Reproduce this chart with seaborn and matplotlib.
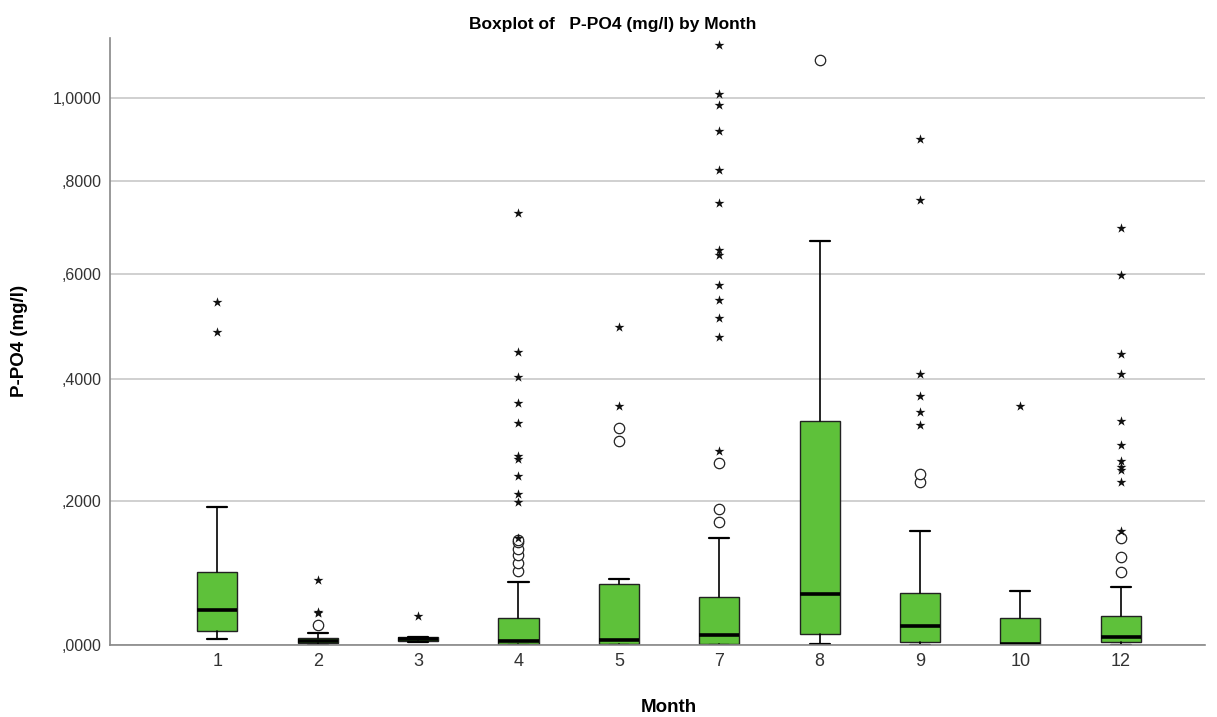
import numpy as np
import pandas as pd
import matplotlib
matplotlib.use("Agg")
import matplotlib.pyplot as plt
import seaborn as sns

# values (mg/l)
months = ["1", "2", "3", "4", "5", "7", "8", "9", "10", "12"]
q1 = [0.0183, 0.0022, 0.0055, 0.0010, 0.0010, 0.0010, 0.0139, 0.0037, 0.0000, 0.0034]
med = [0.0453, 0.0055, 0.0076, 0.0052, 0.0067, 0.0124, 0.0669, 0.0248, 0.0008, 0.0106]
q3 = [0.0965, 0.0085, 0.0098, 0.0348, 0.0805, 0.0631, 0.3288, 0.0685, 0.0344, 0.0374]
whislo = [0.0072, 0.0000, 0.0040, 0.0000, 0.0000, 0.0000, 0.0010, 0.0000, 0.0000, 0.0000]
whishi = [0.1907, 0.0150, 0.0105, 0.0834, 0.0867, 0.1446, 0.6690, 0.1550, 0.0708, 0.0767]

# mild outliers (circles)
circles = {
    "1": [], "2": [0.0257], "3": [],
    "4": [0.099, 0.110, 0.1215, 0.130, 0.1387, 0.143],
    "5": [0.2954, 0.3166], "7": [0.168, 0.188, 0.2589], "8": [1.098],
    "9": [0.229, 0.2417], "10": [], "12": [0.0973, 0.1183, 0.1448],
}
# extreme outliers (stars)
stars = {
    "1": [0.487, 0.545], "2": [0.041, 0.043, 0.086], "3": [0.0374],
    "4": [0.1457, 0.1994, 0.2105, 0.2386, 0.2652, 0.2707, 0.3247, 0.359, 0.4052, 0.449, 0.729],
    "5": [0.354, 0.497],
    "7": [0.279, 0.478, 0.514, 0.548, 0.579, 0.639, 0.649, 0.751, 0.826, 0.919, 0.982, 1.009, 1.138],
    "8": [], "9": [0.3214, 0.3439, 0.3712, 0.4096, 0.7585, 0.898], "10": [0.3537],
    "12": [0.1554, 0.23, 0.2483, 0.2525, 0.2626, 0.2885, 0.3284, 0.409, 0.4453, 0.598, 0.6955],
}
yticks = [0.0, 0.2, 0.4, 0.6, 0.8, 1.0]
ytick_labels = [",0000", ",2000", ",4000", ",6000", ",8000", "1,0000"]

sns.set_theme(style="white")
plt.rcParams["font.family"] = ["Liberation Sans", "DejaVu Sans"]
plt.rcParams["text.color"] = "black"

fig = plt.figure(figsize=(12.17, 7.17), dpi=100)
ax = fig.add_axes([110 / 1217, 1 - 645 / 717, 1095 / 1217, 607 / 717])
ax.set_yscale("function", functions=(np.log1p, np.expm1))

stats = []
for i, m in enumerate(months):
    stats.append(dict(med=med[i], q1=q1[i], q3=q3[i], whislo=whislo[i],
                      whishi=whishi[i], fliers=circles[m], label=m))

ax.bxp(stats, positions=np.arange(len(months)), widths=0.4, capwidths=0.2,
       patch_artist=True, manage_ticks=False,
       boxprops=dict(facecolor="#5EC13A", edgecolor="#222222", linewidth=1.0),
       medianprops=dict(color="black", linewidth=2.6),
       whiskerprops=dict(color="black", linewidth=1.2),
       capprops=dict(color="black", linewidth=1.6),
       flierprops=dict(marker="o", markerfacecolor="white", markeredgecolor="#222222",
                       markersize=7.5, markeredgewidth=0.9))

star_df = pd.DataFrame([(m, v) for m in months for v in stars[m]], columns=["Month", "val"])
sns.stripplot(data=star_df, x="Month", y="val", order=months, jitter=False,
              marker="*", size=7.5, color="#111111", ax=ax, zorder=5)

ax.set_xlim(-1.07, 9.84)
ax.set_ylim(0, 1.158)
ax.set_yticks(yticks)
ax.set_yticklabels(ytick_labels, fontsize=11.5, color="#333333")
ax.set_xticks(np.arange(len(months)))
ax.set_xticklabels(months, fontsize=13, color="#333333")
ax.yaxis.grid(True, color="#c8c8c8", linewidth=1.2)
ax.set_axisbelow(True)
ax.tick_params(axis="both", length=0, pad=6)
for s in ["top", "right"]:
    ax.spines[s].set_visible(False)
for s in ["left", "bottom"]:
    ax.spines[s].set_color("#888888")
    ax.spines[s].set_linewidth(1.2)
ax.set_xlabel("")
ax.set_ylabel("")

fig.text(613 / 1217, 1 - 24 / 717, "Boxplot of   P-PO4 (mg/l) by Month", ha="center",
         va="center", fontsize=12.5, fontweight="bold", color="black")
fig.text(669 / 1217, 1 - 708 / 717, "Month", ha="center", va="center",
         fontsize=13.5, fontweight="bold", color="black")
fig.text(20 / 1217, 1 - 341 / 717, "P-PO4 (mg/l)", ha="center", va="center",
         rotation=90, fontsize=13.5, fontweight="bold", color="black")

fig.savefig("out.png", dpi=100)
